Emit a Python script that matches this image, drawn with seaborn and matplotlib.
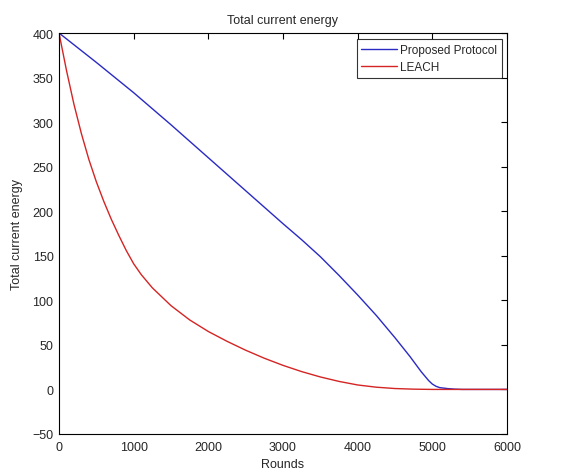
import pandas as pd
import matplotlib
matplotlib.use("Agg")
import matplotlib.pyplot as plt
import seaborn as sns

# values
rounds_proposed = [0, 500, 1000, 1500, 2000, 2500, 3000, 3250, 3500, 3750, 4000,
                   4250, 4500, 4700, 4850, 4950, 5000, 5050, 5100, 5200, 5300,
                   5400, 6000]
energy_proposed = [400, 367, 333, 297, 260, 223, 186, 168, 149, 128, 106,
                   83, 58, 37, 20, 10, 6, 3.5, 2, 1, 0.3,
                   0, 0]

rounds_leach = [0, 100, 200, 300, 400, 500, 600, 700, 800, 900, 1000, 1100,
                1250, 1500, 1750, 2000, 2250, 2500, 2750, 3000, 3250, 3500,
                3750, 4000, 4250, 4500, 4750, 5000, 6000]
energy_leach = [400, 358, 320, 287, 258, 233, 211, 191, 173, 156, 141, 129,
                114, 94, 78, 65, 54, 44, 35, 27, 20, 14,
                9, 5, 2.5, 1, 0.3, 0, 0]

x_ticks = list(range(0, 6001, 1000))
y_ticks = list(range(-50, 401, 50))

df_p = pd.DataFrame({'Rounds': rounds_proposed, 'Energy': energy_proposed,
                     'Protocol': 'Proposed Protocol'})
df_l = pd.DataFrame({'Rounds': rounds_leach, 'Energy': energy_leach,
                     'Protocol': 'LEACH'})
df = pd.concat([df_p, df_l], ignore_index=True)

sns.set_style("white")
plt.rcParams['font.family'] = ['Liberation Sans', 'DejaVu Sans']
plt.rcParams['xtick.direction'] = 'in'
plt.rcParams['ytick.direction'] = 'in'

fig = plt.figure(figsize=(5.61, 4.77), dpi=100)
ax = fig.add_axes([0.1052, 0.0881, 0.7985, 0.8406])

sns.lineplot(data=df, x='Rounds', y='Energy', hue='Protocol',
             palette={'Proposed Protocol': '#2a2ac4', 'LEACH': '#d42424'},
             hue_order=['Proposed Protocol', 'LEACH'],
             linewidth=1.0, ax=ax, estimator=None, sort=False)

ax.set_xlim(0, 6000)
ax.set_ylim(-50, 400)
ax.set_xticks(x_ticks)
ax.set_yticks(y_ticks)
ax.tick_params(axis='both', which='both', top=True, right=True, length=4,
               width=0.8, color='black', labelsize=9)
ax.tick_params(axis='x', pad=5)
ax.tick_params(axis='y', pad=4)
for s in ax.spines.values():
    s.set_color('black')
    s.set_linewidth(0.8)

ax.set_title('Total current energy', fontsize=9, pad=7)
ax.set_xlabel('Rounds', fontsize=9, labelpad=4)
ax.set_ylabel('Total current energy', fontsize=9, labelpad=7)

leg = ax.legend(loc='upper right', bbox_to_anchor=(0.989, 0.985),
                borderaxespad=0, fontsize=8.5, frameon=True, fancybox=False,
                handlelength=3.0, handletextpad=0.3, borderpad=0.4,
                labelspacing=0.45)
leg.get_frame().set_edgecolor('black')
leg.get_frame().set_linewidth(0.8)

fig.savefig('out.png', dpi=100)
